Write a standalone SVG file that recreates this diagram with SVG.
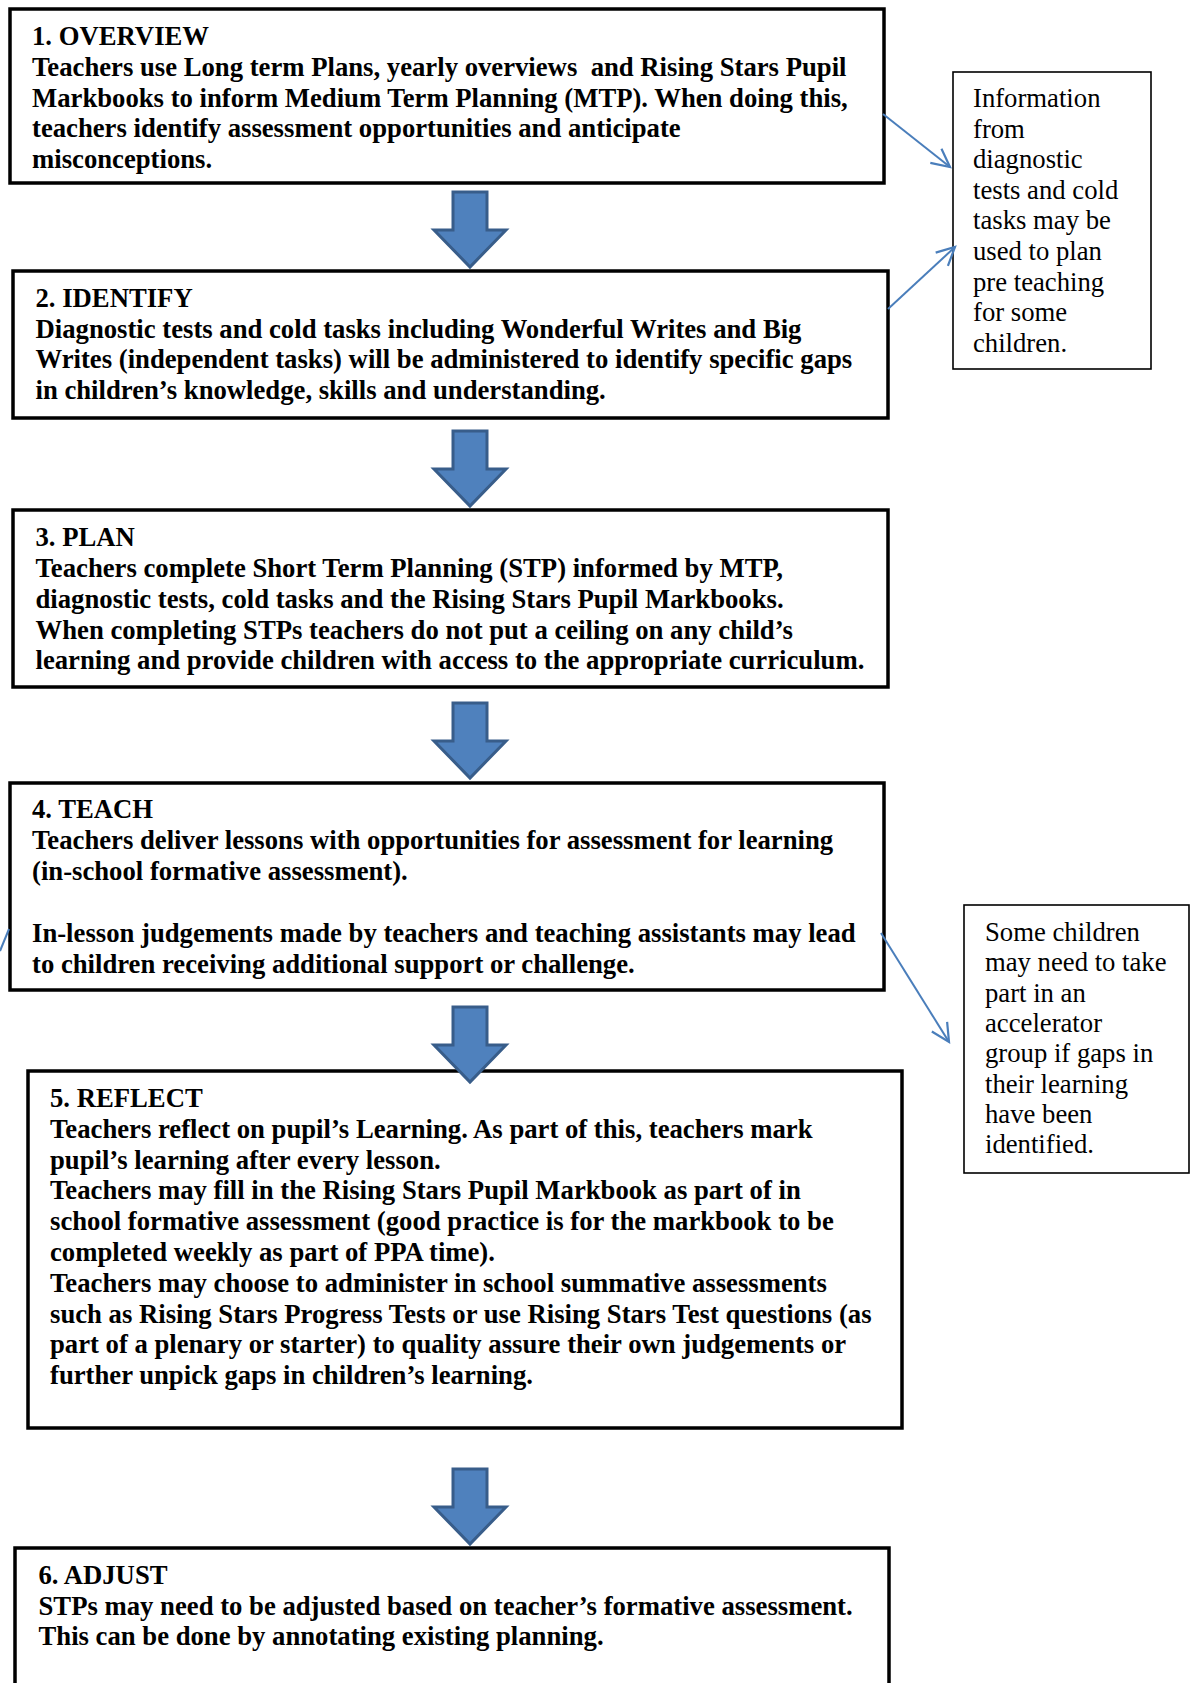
<svg xmlns="http://www.w3.org/2000/svg" width="1192" height="1683" viewBox="0 0 1192 1683">
<style>
.box{fill:#fff;stroke:#000;stroke-width:3.5}
.side{fill:#fff;stroke:#000;stroke-width:1.6}
.t{font-family:"Liberation Serif","Times New Roman",serif;font-weight:bold;font-size:26.7px;fill:#000;white-space:pre}
.s{font-family:"Liberation Serif","Times New Roman",serif;font-size:26.7px;fill:#000}
.arr{fill:#4F81BD;stroke:#385D8A;stroke-width:3}
.con{stroke:#4A7EBB;stroke-width:2;fill:none}
</style>
<defs>
<path id="bigarrow" d="M-17,0 H17 V38 H36 L0,75 L-36,38 H-17 Z"/>
<marker id="open" markerUnits="userSpaceOnUse" markerWidth="24" markerHeight="24" refX="20" refY="10" orient="auto" viewBox="0 0 24 20">
<path d="M2,1 L20,10 L2,19" fill="none" stroke="#4A7EBB" stroke-width="2.2"/>
</marker>
</defs>
<rect width="1192" height="1683" fill="#fff"/>
<g id="node-overview">
<rect class="box" x="10" y="9" width="874" height="174"/>
<text class="t" x="32" y="45">1. OVERVIEW</text>
<text class="t" x="32" y="76">Teachers use Long term Plans, yearly overviews  and Rising Stars Pupil</text>
<text class="t" x="32" y="106.5">Markbooks to inform Medium Term Planning (MTP). When doing this,</text>
<text class="t" x="32" y="137">teachers identify assessment opportunities and anticipate</text>
<text class="t" x="32" y="167.5">misconceptions.</text>
</g>
<g id="node-identify">
<rect class="box" x="13" y="271" width="875" height="147"/>
<text class="t" x="35.5" y="307">2. IDENTIFY</text>
<text class="t" x="35.5" y="337.5">Diagnostic tests and cold tasks including Wonderful Writes and Big</text>
<text class="t" x="35.5" y="368">Writes (independent tasks) will be administered to identify specific gaps</text>
<text class="t" x="35.5" y="398.5">in children’s knowledge, skills and understanding.</text>
</g>
<g id="node-plan">
<rect class="box" x="13" y="510" width="875" height="177"/>
<text class="t" x="35.5" y="545.5">3. PLAN</text>
<text class="t" x="35.5" y="576.5">Teachers complete Short Term Planning (STP) informed by MTP,</text>
<text class="t" x="35.5" y="607.5">diagnostic tests, cold tasks and the Rising Stars Pupil Markbooks.</text>
<text class="t" x="35.5" y="638.5">When completing STPs teachers do not put a ceiling on any child’s</text>
<text class="t" x="35.5" y="669">learning and provide children with access to the appropriate curriculum.</text>
</g>
<g id="node-teach">
<rect class="box" x="10" y="783" width="874" height="207"/>
<text class="t" x="32" y="818">4. TEACH</text>
<text class="t" x="32" y="849">Teachers deliver lessons with opportunities for assessment for learning</text>
<text class="t" x="32" y="880">(in-school formative assessment).</text>
<text class="t" x="32" y="942">In-lesson judgements made by teachers and teaching assistants may lead</text>
<text class="t" x="32" y="972.5">to children receiving additional support or challenge.</text>
</g>
<g id="node-reflect">
<rect class="box" x="28" y="1071" width="874" height="357"/>
<text class="t" x="50" y="1107">5. REFLECT</text>
<text class="t" x="50" y="1137.8">Teachers reflect on pupil’s Learning. As part of this, teachers mark</text>
<text class="t" x="50" y="1168.6">pupil’s learning after every lesson.</text>
<text class="t" x="50" y="1199.4">Teachers may fill in the Rising Stars Pupil Markbook as part of in</text>
<text class="t" x="50" y="1230.2">school formative assessment (good practice is for the markbook to be</text>
<text class="t" x="50" y="1261">completed weekly as part of PPA time).</text>
<text class="t" x="50" y="1291.8">Teachers may choose to administer in school summative assessments</text>
<text class="t" x="50" y="1322.6">such as Rising Stars Progress Tests or use Rising Stars Test questions (as</text>
<text class="t" x="50" y="1353.4">part of a plenary or starter) to quality assure their own judgements or</text>
<text class="t" x="50" y="1384.2">further unpick gaps in children’s learning.</text>
</g>
<g id="node-adjust">
<rect class="box" x="15" y="1548" width="874" height="200"/>
<text class="t" x="38.5" y="1584">6. ADJUST</text>
<text class="t" x="38.5" y="1614.5">STPs may need to be adjusted based on teacher’s formative assessment.</text>
<text class="t" x="38.5" y="1645">This can be done by annotating existing planning.</text>
</g>
<g id="node-info">
<rect class="side" x="953" y="72" width="198" height="297"/>
<text class="s" x="973" y="107">Information</text>
<text class="s" x="973" y="137.6">from</text>
<text class="s" x="973" y="168.2">diagnostic</text>
<text class="s" x="973" y="198.8">tests and cold</text>
<text class="s" x="973" y="229.4">tasks may be</text>
<text class="s" x="973" y="260">used to plan</text>
<text class="s" x="973" y="290.6">pre teaching</text>
<text class="s" x="973" y="321.2">for some</text>
<text class="s" x="973" y="351.8">children.</text>
</g>
<g id="node-accelerator">
<rect class="side" x="964" y="905" width="225" height="268"/>
<text class="s" x="985" y="941">Some children</text>
<text class="s" x="985" y="971.3">may need to take</text>
<text class="s" x="985" y="1001.6">part in an</text>
<text class="s" x="985" y="1031.9">accelerator</text>
<text class="s" x="985" y="1062.2">group if gaps in</text>
<text class="s" x="985" y="1092.5">their learning</text>
<text class="s" x="985" y="1122.8">have been</text>
<text class="s" x="985" y="1153.1">identified.</text>
</g>
<g id="connectors">
<use href="#bigarrow" class="arr" transform="translate(470,192)"/>
<use href="#bigarrow" class="arr" transform="translate(470,431)"/>
<use href="#bigarrow" class="arr" transform="translate(470,703)"/>
<use href="#bigarrow" class="arr" transform="translate(470,1007)"/>
<use href="#bigarrow" class="arr" transform="translate(470,1469)"/>
<line class="con" x1="883" y1="114" x2="950" y2="167" marker-end="url(#open)"/>
<line class="con" x1="888" y1="309" x2="955" y2="247" marker-end="url(#open)"/>
<line class="con" x1="881" y1="933" x2="949" y2="1042" marker-end="url(#open)"/>
<line class="con" x1="9" y1="929" x2="0" y2="951"/>
</g>
</svg>
